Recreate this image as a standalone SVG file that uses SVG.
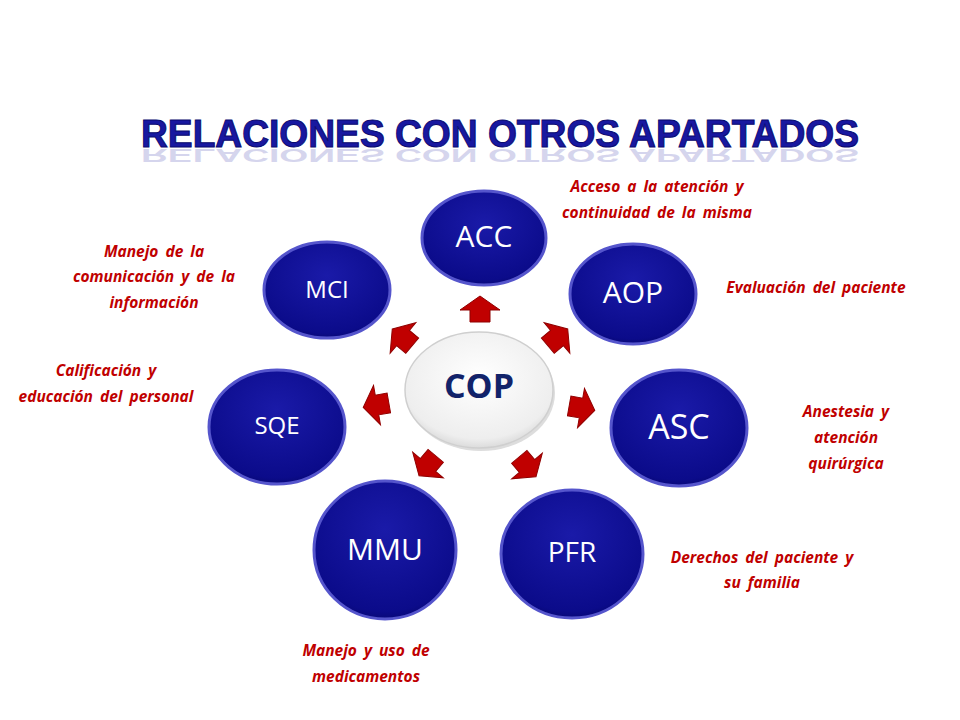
<svg xmlns="http://www.w3.org/2000/svg" width="960" height="720" viewBox="0 0 960 720">
<defs>
<radialGradient id="blue" cx="0.5" cy="0.35" r="0.7">
<stop offset="0" stop-color="#1a1aa8"/><stop offset="0.85" stop-color="#0b0b8a"/><stop offset="1" stop-color="#06066a"/>
</radialGradient>
<radialGradient id="white" cx="0.5" cy="0.4" r="0.65">
<stop offset="0" stop-color="#ffffff"/><stop offset="0.8" stop-color="#eeeeee"/><stop offset="1" stop-color="#d0d0d0"/>
</radialGradient>
<polygon id="arr" points="0,-14 20,0 10,0 10,12 -10,12 -10,0 -20,0"/>
</defs>
<style>
.c{fill:url(#blue);stroke:#5555cc;stroke-width:3}
.t{font-family:"Open Sans","Liberation Sans",sans-serif;fill:#fff;text-anchor:middle}
.l{font-family:"Open Sans","Liberation Sans",sans-serif;font-weight:bold;font-style:italic;font-size:15.5px;fill:#c00000;text-anchor:middle;word-spacing:3px}
.a{fill:#c00000;stroke:#900000;stroke-width:1}
</style>
<rect width="960" height="720" fill="#fff"/>
<text x="500" y="149" font-family="'Liberation Sans',Arial,sans-serif" font-weight="bold" font-size="38" fill="#8888cc" text-anchor="middle" textLength="718" lengthAdjust="spacingAndGlyphs" transform="translate(0,223.5) scale(1,-0.5)" opacity="0.35">RELACIONES CON OTROS APARTADOS</text>
<text x="500" y="147" font-family="'Liberation Sans',Arial,sans-serif" font-weight="bold" font-size="38" fill="#1818a0" stroke="#0a0a70" stroke-width="1" text-anchor="middle" textLength="718" lengthAdjust="spacingAndGlyphs">RELACIONES CON OTROS APARTADOS</text>
<g id="ACC"><ellipse class="c" cx="484" cy="238" rx="62" ry="47"/><text class="t" x="484" y="247" font-size="30">ACC</text></g>
<g id="MCI"><ellipse class="c" cx="327" cy="290" rx="63" ry="48"/><text class="t" x="327" y="298" font-size="24">MCI</text></g>
<g id="AOP"><ellipse class="c" cx="633" cy="294" rx="63" ry="50"/><text class="t" x="633" y="303" font-size="30">AOP</text></g>
<g id="SQE"><ellipse class="c" cx="277" cy="427" rx="68" ry="57"/><text class="t" x="277" y="434" font-size="24">SQE</text></g>
<g id="ASC"><ellipse class="c" cx="679" cy="428" rx="68" ry="58"/><text class="t" x="679" y="439" font-size="34">ASC</text></g>
<g id="MMU"><ellipse class="c" cx="385" cy="550" rx="71" ry="69"/><text class="t" x="385" y="560" font-size="30">MMU</text></g>
<g id="PFR"><ellipse class="c" cx="572" cy="554" rx="71" ry="64"/><text class="t" x="572" y="562" font-size="28">PFR</text></g>
<g id="COP"><ellipse cx="481" cy="393" rx="74" ry="58" fill="#bbb" opacity="0.5"/><ellipse cx="479" cy="390" rx="74" ry="58" fill="url(#white)" stroke="#cfcfcf" stroke-width="1.5"/><text x="479" y="398" font-family="'Open Sans','Liberation Sans',sans-serif" font-weight="bold" font-size="34" fill="#12236a" text-anchor="middle">COP</text></g>
<g id="connectors">
<use href="#arr" class="a" transform="translate(480,310)"/>
<use href="#arr" class="a" transform="translate(403,338) rotate(-50)"/>
<use href="#arr" class="a" transform="translate(557,338) rotate(50)"/>
<use href="#arr" class="a" transform="translate(377,405) rotate(-100)"/>
<use href="#arr" class="a" transform="translate(581,408) rotate(100)"/>
<use href="#arr" class="a" transform="translate(428,465) rotate(-140)"/>
<use href="#arr" class="a" transform="translate(527,466) rotate(140)"/>
</g>
<g id="labels">
<text class="l" x="657" y="192">Acceso a la atención y</text>
<text class="l" x="657" y="218">continuidad de la misma</text>
<text class="l" x="816" y="293">Evaluación del paciente</text>
<text class="l" x="846" y="417">Anestesia y</text>
<text class="l" x="846" y="443">atención</text>
<text class="l" x="846" y="469">quirúrgica</text>
<text class="l" x="762" y="563">Derechos del paciente y</text>
<text class="l" x="762" y="588">su familia</text>
<text class="l" x="366" y="656">Manejo y uso de</text>
<text class="l" x="366" y="682">medicamentos</text>
<text class="l" x="106" y="376">Calificación y</text>
<text class="l" x="106" y="402">educación del personal</text>
<text class="l" x="154" y="257">Manejo de la</text>
<text class="l" x="154" y="282">comunicación y de la</text>
<text class="l" x="154" y="308">información</text>
</g>
</svg>
